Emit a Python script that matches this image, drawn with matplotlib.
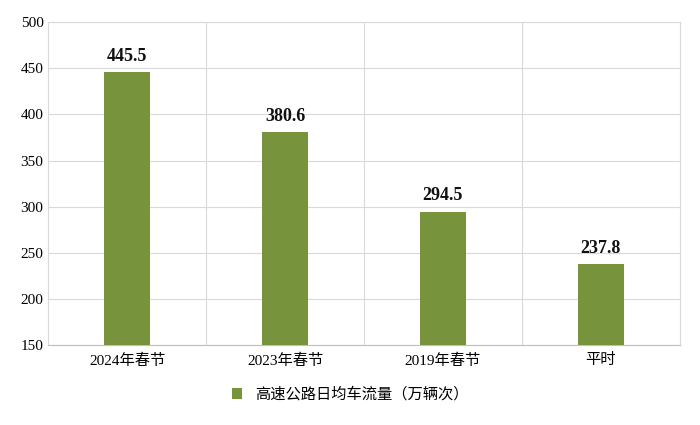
import matplotlib
matplotlib.use("Agg")
import matplotlib.pyplot as plt
from matplotlib.ticker import MultipleLocator

categories = ["2024年春节", "2023年春节", "2019年春节", "平时"]
values = [445.5, 380.6, 294.5, 237.8]
series_name = "高速公路日均车流量（万辆次）"

plt.rcParams["font.family"] = ["Liberation Serif", "Noto Sans CJK SC"]

fig = plt.figure(figsize=(7.0, 4.25), dpi=100)
ax = fig.add_axes([0.069, 0.188, 0.902, 0.76])

x = list(range(len(categories)))
bars = ax.bar(x, [v - 150 for v in values], bottom=150, width=0.29,
              color="#77933C", label=series_name, zorder=3)
for xi, v in zip(x, values):
    ax.text(xi, v + 8, f"{v:.1f}", ha="center", va="bottom",
            fontsize=13, fontweight="bold", color="#111111")

ax.set_xlim(-0.5, len(categories) - 0.5)
ax.set_ylim(150, 500)
ax.yaxis.set_major_locator(MultipleLocator(50))
ax.set_xticks(x)
ax.set_xticklabels(categories, fontsize=11)
ax.tick_params(axis="y", labelsize=11, length=0)
ax.tick_params(axis="x", length=0, pad=6)

ax.grid(axis="y", color="#d9d9d9", linewidth=0.8, zorder=0)
for b in [0.5, 1.5, 2.5]:
    ax.axvline(b, color="#d9d9d9", linewidth=0.8, zorder=0)
for side in ["top", "right", "left"]:
    ax.spines[side].set_color("#d9d9d9")
ax.spines["bottom"].set_color("#bfbfbf")

fig.legend(loc="lower center", bbox_to_anchor=(0.5, 0.02), frameon=False,
           fontsize=11, handlelength=0.7, handleheight=0.7,
           prop={"family": ["Noto Sans CJK SC"], "size": 11})

fig.savefig("out.png", dpi=100)
